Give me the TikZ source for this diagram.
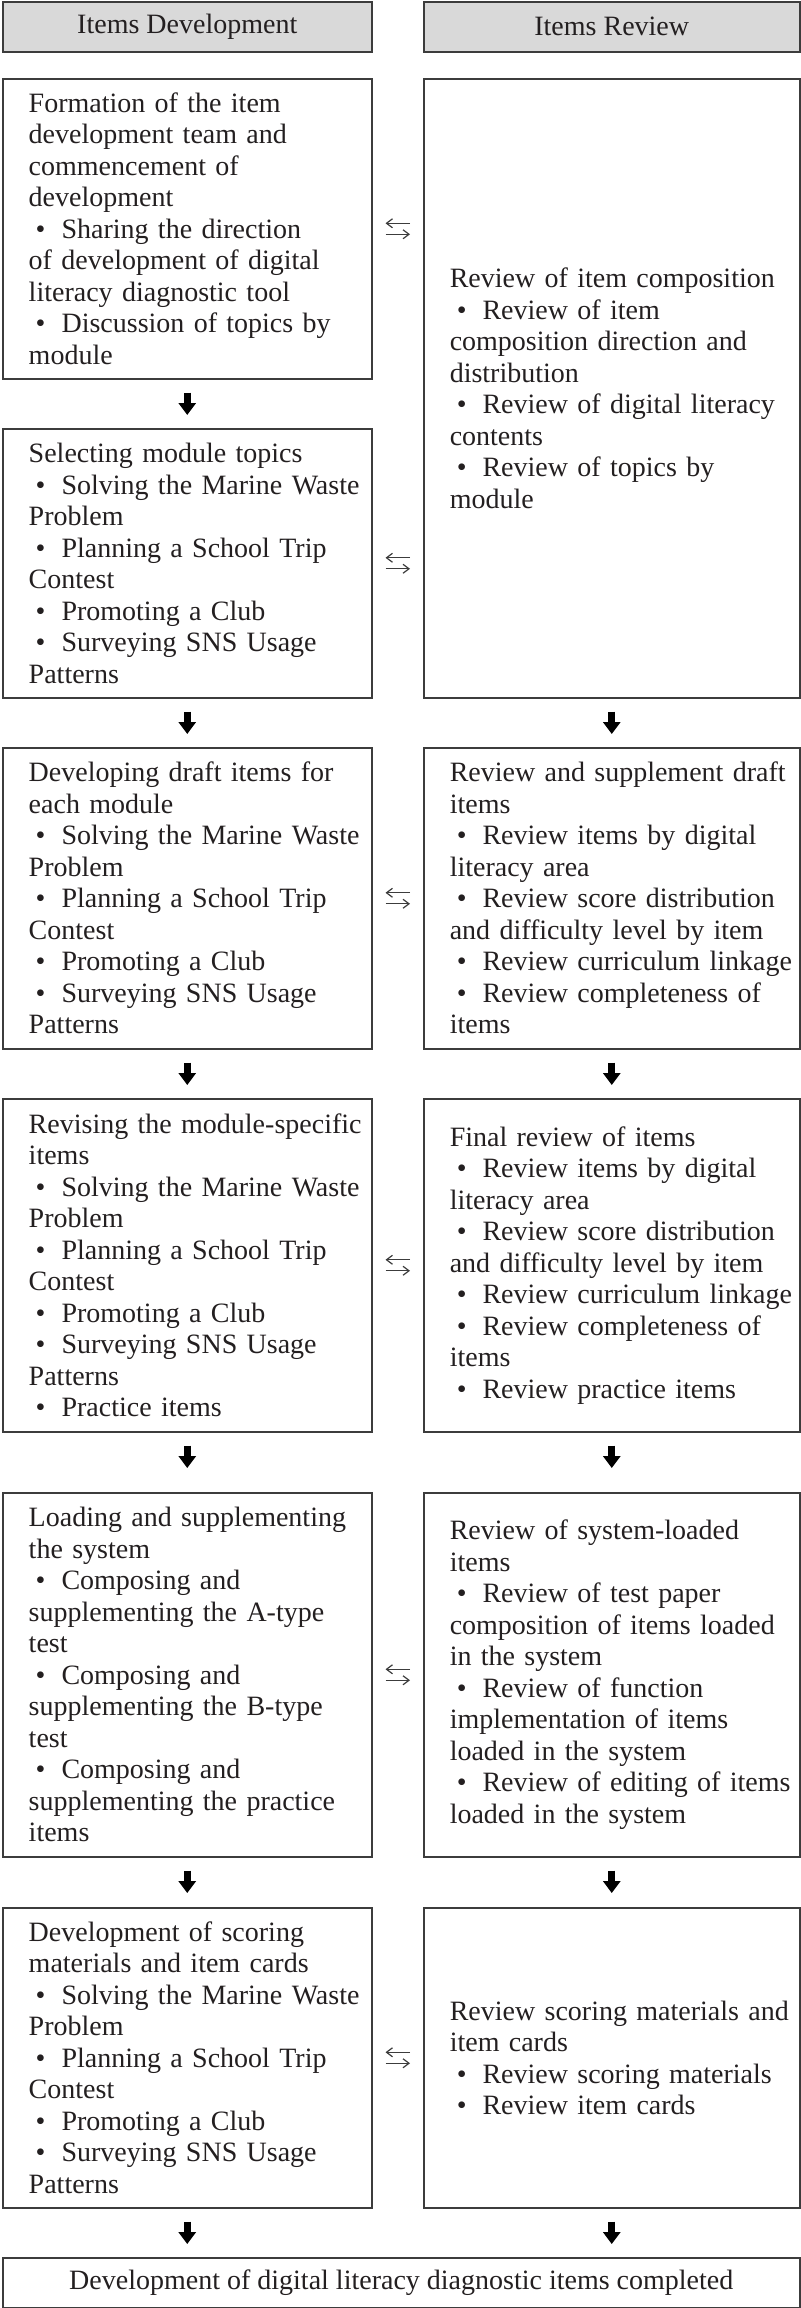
\documentclass[tikz,border=0pt]{standalone}
\usepackage{fontspec}
\setmainfont{Liberation Serif}
\usepackage{tikz}
\usetikzlibrary{arrows.meta, positioning}
\definecolor{boxline}{HTML}{3C3C3C}
\definecolor{headfill}{HTML}{D9D9D9}
\definecolor{ink}{HTML}{231F20}
\newcommand{\bul}{\hspace*{3.5pt}\textbullet\hspace{8pt}}

\begin{document}
\begin{tikzpicture}[x=0.5pt, y=-0.5pt,
    font=\fontsize{14pt}{15.75pt}\selectfont, text=ink,
    box/.style={draw=boxline, line width=0.75pt, anchor=north west, inner xsep=0pt, inner ysep=2pt},
    stage/.style={box, align=left, text width=#1, minimum width=#1,
      execute at begin node={\leftskip=13pt\rightskip=-12pt plus 1fil}},
    headbox/.style={box, align=center, minimum width=#1, minimum height=25pt},
    downarr/.style={draw=black, line width=3.6pt, -{Triangle[width=8.5pt,length=6pt]},
      shorten <=6.5pt},
    swaparr/.style={draw=boxline, line width=0.6pt, -{Straight Barb[length=3pt,width=4.5pt]},
      shorten <=6.5pt, shorten >=6.5pt}]
  \useasboundingbox (0,0) rectangle (800,2308);

  % column heads
  \node[headbox=184.5pt, fill=headfill] (hdev) at (2,1) {Items Development};
  \node[headbox=188pt, fill=headfill] (hrev) at (423,1) {Items Review};

  % development column
  \node[stage=184.5pt, minimum height=150pt] (dev1) at (2,78)
    {Formation of the item\\development team and\\commencement of\\development\\
     \bul Sharing the direction\\of development of digital\\literacy diagnostic tool\\
     \bul Discussion of topics by\\module};
  \node[stage=184.5pt, minimum height=134.5pt] (dev2) at (2,428)
    {Selecting module topics\\\bul Solving the Marine Waste\\Problem\\
     \bul Planning a School Trip\\Contest\\\bul Promoting a Club\\
     \bul Surveying SNS Usage\\Patterns};
  \node[stage=184.5pt, minimum height=150.5pt] (dev3) at (2,747)
    {Developing draft items for\\each module\\\bul Solving the Marine Waste\\Problem\\
     \bul Planning a School Trip\\Contest\\\bul Promoting a Club\\
     \bul Surveying SNS Usage\\Patterns};
  \node[stage=184.5pt, minimum height=166.5pt] (dev4) at (2,1098)
    {Revising the module-specific\\items\\\bul Solving the Marine Waste\\Problem\\
     \bul Planning a School Trip\\Contest\\\bul Promoting a Club\\
     \bul Surveying SNS Usage\\Patterns\\\bul Practice items};
  \node[stage=184.5pt, minimum height=182pt] (dev5) at (2,1492)
    {Loading and supplementing\\the system\\\bul Composing and\\
     supplementing the A-type\\test\\\bul Composing and\\
     supplementing the B-type\\test\\\bul Composing and\\
     supplementing the practice\\items};
  \node[stage=184.5pt, minimum height=150pt] (dev6) at (2,1907)
    {Development of scoring\\materials and item cards\\\bul Solving the Marine Waste\\Problem\\
     \bul Planning a School Trip\\Contest\\\bul Promoting a Club\\
     \bul Surveying SNS Usage\\Patterns};

  % review column
  \node[stage=188pt, minimum height=309.5pt] (rev1) at (423,78)
    {Review of item composition\\\bul Review of item\\composition direction and\\distribution\\
     \bul Review of digital literacy\\contents\\\bul Review of topics by\\module};
  \node[stage=188pt, minimum height=150.5pt] (rev3) at (423,747)
    {Review and supplement draft\\items\\\bul Review items by digital\\literacy area\\
     \bul Review score distribution\\and difficulty level by item\\
     \bul Review curriculum linkage\\\bul Review completeness of\\items};
  \node[stage=188pt, minimum height=166.5pt] (rev4) at (423,1098)
    {Final review of items\\\bul Review items by digital\\literacy area\\
     \bul Review score distribution\\and difficulty level by item\\
     \bul Review curriculum linkage\\\bul Review completeness of\\items\\
     \bul Review practice items};
  \node[stage=188pt, minimum height=182pt] (rev5) at (423,1492)
    {Review of system-loaded\\items\\\bul Review of test paper\\composition of items loaded\\
     in the system\\\bul Review of function\\implementation of items\\
     loaded in the system\\\bul Review of editing of items\\loaded in the system};
  \node[stage=188pt, minimum height=150pt] (rev6) at (423,1907)
    {Review scoring materials and\\item cards\\\bul Review scoring materials\\
     \bul Review item cards};

  \node[headbox=398.5pt] (done) at (2,2257)
    {Development of digital literacy diagnostic items completed};

  % flow
  \foreach \from/\to/\gap in {dev1/dev2/6.5pt, dev2/dev3/6.5pt, dev3/dev4/6.5pt, dev4/dev5/12pt,
                              dev5/dev6/7pt, rev1/rev3/6.5pt, rev3/rev4/6.5pt, rev4/rev5/12pt,
                              rev5/rev6/7pt}
    \draw[downarr, shorten >=\gap] (\from) -- (\to);
  \foreach \from in {dev6, rev6}
    \draw[downarr, shorten >=6.5pt] (\from.south) -- (\from.south |- done.north);

  % exchange between the columns
  \foreach \from/\to in {dev1/rev1, dev2/rev1, dev3/rev3, dev4/rev4, dev5/rev5, dev6/rev6} {
    \draw[swaparr, transform canvas={yshift=2.75pt}] (\from.east -| \to.west) -- (\from.east);
    \draw[swaparr, transform canvas={yshift=-2.75pt}] (\from.east) -- (\from.east -| \to.west);
  }
\end{tikzpicture}
\end{document}
